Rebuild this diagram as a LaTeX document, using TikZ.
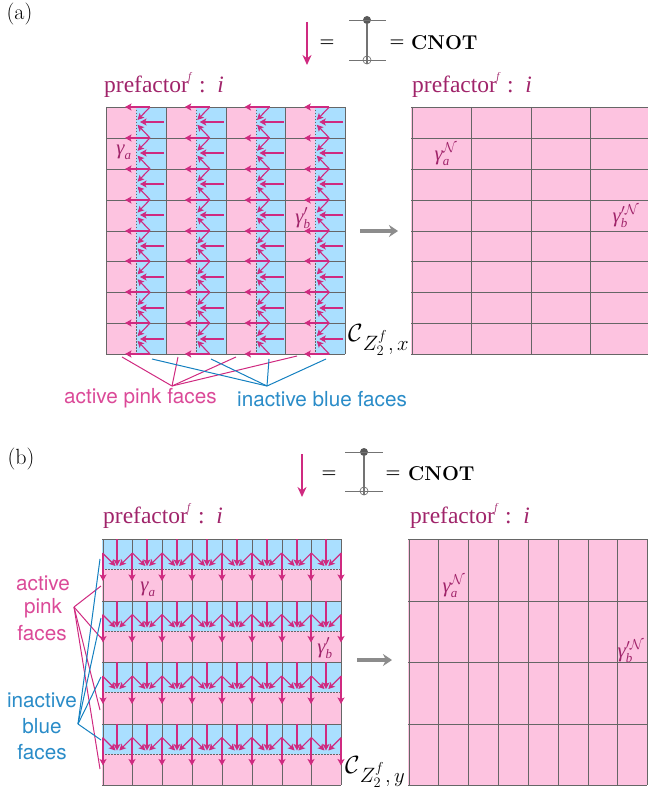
\documentclass[tikz,border=0pt]{standalone}
\usepackage{amsmath}
\usepackage{amssymb}
\usepackage{fontspec}
\usepackage {tikz}
\usetikzlibrary {positioning}
\usetikzlibrary{calc}
\usetikzlibrary{arrows.meta}
\newfontfamily\prefont{Liberation Serif}
\newfontfamily\facefont{TeX Gyre Heros}
\definecolor{facepink}{HTML}{FDC3E0}
\definecolor{faceblue}{HTML}{AADFFF}
\definecolor{flowpink}{HTML}{CF2A80}
\definecolor{labpink}{HTML}{DB4A98}
\definecolor{labblue}{HTML}{2A8CC8}
\definecolor{leadblue}{HTML}{1480C0}
\definecolor{prepurple}{HTML}{A0246A}
\newcommand{\GM}[2]{\mbox{\prefont\itshape γ}_{\mbox{\fontsize{13}{13}\selectfont\prefont\itshape #1}}#2}
\newcommand{\PF}{{\prefont prefactor\hspace{-0.5pt}\raisebox{1.25ex}{\fontsize{10}{10}\selectfont\itshape f}\,\,:\, \itshape i}}
\newcommand{\CD}[1]{\mbox{\fontsize{24.88}{30}\selectfont$\mathcal{C}$}\raisebox{-9pt}{\fontsize{20.74}{25}\selectfont$Z_2^f\hspace{1pt},#1$}}
\tikzset{
    pinkface/.style = {fill=facepink},
    blueface/.style = {fill=faceblue},
    gridline/.style = {draw=black!60,line width=1.05pt},
    dotline/.style = {draw=black!60,line width=1pt,dash pattern=on 1.5pt off 1.5pt},
    flow/.style = {draw=flowpink,line width=1.5pt,-{Stealth[length=6.5pt,width=7pt,inset=1.5pt]}},
    slant/.style = {draw=flowpink,line width=1.1pt,-{Stealth[length=6.5pt,width=6.5pt,inset=1.5pt]}},
    bigflow/.style = {draw=flowpink,line width=2pt,-{Stealth[length=10pt,width=9pt]}},
    grayflow/.style = {draw=black!45,line width=4pt,-{Stealth[length=9pt,width=12pt]}},
    leadp/.style = {draw=flowpink,line width=1pt},
    leadb/.style = {draw=leadblue,line width=1pt},
    wire/.style = {draw=black!55,line width=1.05pt},
    big/.style = {inner sep=0pt,font=\fontsize{20}{24}\selectfont},
    tag/.style = {inner sep=0pt,font=\fontsize{22}{26}\selectfont},
    eqsign/.style = {inner sep=0pt,font=\fontsize{17}{20}\selectfont},
    pre/.style = {inner sep=0pt,anchor=west,text=prepurple,font=\fontsize{23.5}{28}\selectfont},
    gam/.style = {inner sep=0pt,text=prepurple,font=\fontsize{20.74}{25}\selectfont},
    facep/.style = {inner sep=0pt,text=labpink,font=\facefont\fontsize{20.7}{25}\selectfont},
    faceb/.style = {inner sep=0pt,text=labblue,font=\facefont\fontsize{20.7}{25}\selectfont},
    copymap/.style = {circle,fill=black!65,inner sep=0pt,minimum size=8pt},
    xormap/.style = {circle,draw=black!55,line width=0.7pt,inner sep=0pt,minimum size=8pt}}
\begin{document}
\begin{tikzpicture}[x=1pt,y=-1pt]
        \useasboundingbox (0,0) rectangle (648,791);
        % panel a, left
        \fill[pinkface] (106,107) rectangle (345,354);
        \foreach \i in {0,...,3} {
            \fill[blueface] ({136+59.75*\i},107) rectangle ({165.75+59.75*\i},354);
            \draw[dotline] ({round(136+59.75*\i)},107) -- ({round(136+59.75*\i)},354);
        }
        \foreach \i in {0,...,4}
            \draw[gridline] ({round(106+59.75*\i)+0.5},107) -- ({round(106+59.75*\i)+0.5},354);
        \foreach \j in {0,...,8}
            \draw[gridline] (106,{round(107+30.875*\j)+0.5}) -- (345,{round(107+30.875*\j)+0.5});
        \foreach \i in {0,...,3} {
            \foreach \j in {0,...,8}
                \draw[flow] ({150+59.75*\i},{round(107+30.875*\j)}) -- ({125+59.75*\i},{round(107+30.875*\j)});
            \foreach \j in {0,...,7} {
                \draw[flow] ({164+59.75*\i},{round(122.4+30.875*\j)}) -- ({140+59.75*\i},{round(122.4+30.875*\j)});
                \draw[slant] ({150+59.75*\i},{107+30.875*\j}) -- ({137.5+59.75*\i},{120+30.875*\j});
                \draw[slant] ({150+59.75*\i},{137.875+30.875*\j}) -- ({137.5+59.75*\i},{124.8+30.875*\j});
            }
        }
        % panel a, right
        \fill[pinkface] (411,107) rectangle (648,354);
        \foreach \i in {0,...,3}
            \draw[gridline] ({round(411.5+59.6*\i)+0.5},107) -- ({round(411.5+59.6*\i)+0.5},354);
        \foreach \j in {0,...,8}
            \draw[gridline] (411,{round(107+30.875*\j)+0.5}) -- (648,{round(107+30.875*\j)+0.5});
        % panel b, left
        \fill[pinkface] (102,539) rectangle (341,785);
        \foreach \j in {0,...,3} {
            \fill[blueface] (102,{539+61.5*\j}) rectangle (341,{569+61.5*\j});
            \draw[dotline] (102,{round(569+61.5*\j)}) -- (341,{round(569+61.5*\j)});
        }
        \foreach \i in {0,...,8}
            \draw[gridline] ({round(102.5+29.85*\i)+0.5},539) -- ({round(102.5+29.85*\i)+0.5},785);
        \foreach \j in {0,...,4}
            \draw[gridline] (102,{round(539+61.5*\j)+0.5}) -- (341,{round(539+61.5*\j)+0.5});
        \foreach \j in {0,...,3} {
            \foreach \i in {0,...,8}
                \draw[flow] ({round(102.5+29.85*\i)},{553+61.5*\j}) -- ({round(102.5+29.85*\i)},{581+61.5*\j});
            \foreach \i in {0,...,7} {
                \draw[flow] ({round(117.4+29.85*\i)},{539+61.5*\j}) -- ({round(117.4+29.85*\i)},{566+61.5*\j});
                \draw[slant] ({102.5+29.85*\i},{553+61.5*\j}) -- ({115.5+29.85*\i},{566+61.5*\j});
                \draw[slant] ({132.3+29.85*\i},{553+61.5*\j}) -- ({119.3+29.85*\i},{566+61.5*\j});
            }
        }
        % panel b, right
        \fill[pinkface] (408,539) rectangle (647,785);
        \foreach \i in {0,...,8}
            \draw[gridline] ({round(408.5+29.85*\i)+0.5},539) -- ({round(408.5+29.85*\i)+0.5},785);
        \foreach \j in {0,...,4}
            \draw[gridline] (408,{round(539+61.5*\j)+0.5}) -- (647,{round(539+61.5*\j)+0.5});
        % headers a
        \node[tag] (tagA) at (19.5,14) {(a)};
        \coordinate (downA1) at (307,22);
        \coordinate (downA2) at (307,65);
        \draw[bigflow] (downA1) -- (downA2);
        \node[eqsign] (eqA1) at (327,43) {\textbf{=}};
        \node[copymap] (ctrlA) at (367,20) {};
        \node[xormap] (xorA) at (367,60) {};
        \coordinate (ctrlAl) at (349,20.5);
        \coordinate (ctrlAr) at (386,20.5);
        \coordinate (xorAl) at (349,60.5);
        \coordinate (xorAr) at (386,60.5);
        \draw[wire] (ctrlAl) -- (ctrlAr) (xorAl) -- (xorAr) (ctrlA) -- (xorA.south);
        \node[eqsign] (eqA2) at (397,43) {\textbf{=}};
        \node[big,anchor=west] (cnotA) at (411,43) {\textbf{CNOT}};
        \node[pre] (preA1) at (104,85) {\PF};
        \node[pre] (preA2) at (412,85) {\PF};
        % headers b
        \node[tag] (tagB) at (21,459) {(b)};
        \coordinate (downB1) at (302,454);
        \coordinate (downB2) at (302,497);
        \draw[bigflow] (downB1) -- (downB2);
        \node[eqsign] (eqB1) at (329,474) {\textbf{=}};
        \node[copymap] (ctrlB) at (364,452) {};
        \node[xormap] (xorB) at (364,491) {};
        \coordinate (ctrlBl) at (345,452.5);
        \coordinate (ctrlBr) at (383,452.5);
        \coordinate (xorBl) at (345,491.5);
        \coordinate (xorBr) at (383,491.5);
        \draw[wire] (ctrlBl) -- (ctrlBr) (xorBl) -- (xorBr) (ctrlB) -- (xorB.south);
        \node[eqsign] (eqB2) at (393,474) {\textbf{=}};
        \node[big,anchor=west] (cnotB) at (408,474) {\textbf{CNOT}};
        \node[pre] (preB1) at (103,516) {\PF};
        \node[pre] (preB2) at (410,516) {\PF};
        % gammas
        \node[gam] (gamA) at (124,152) {$\GM{a}{}$};
        \node[gam] (gamB) at (303,218) {$\GM{b}{^{\prime}}$};
        \node[gam] (gamAn) at (446,154) {$\GM{a}{^{\mathcal N}}$};
        \node[gam] (gamBn) at (626,216) {$\GM{b}{^{\prime\mathcal N}}$};
        \node[gam] (gamC) at (148,589) {$\GM{a}{}$};
        \node[gam] (gamD) at (325,648) {$\GM{b}{^{\prime}}$};
        \node[gam] (gamCn) at (454,586) {$\GM{a}{^{\mathcal N}}$};
        \node[gam] (gamDn) at (631,651) {$\GM{b}{^{\prime\mathcal N}}$};
        \node[big,anchor=west] (codeA) at (348,340) {\CD{x}};
        \node[big,anchor=west] (codeB) at (345,772) {\CD{y}};
        % gray arrows
        \coordinate (grayA1) at (360,231);
        \coordinate (grayA2) at (398,231);
        \coordinate (grayB1) at (357,660);
        \coordinate (grayB2) at (392,660);
        \draw[grayflow] (grayA1) -- (grayA2);
        \draw[grayflow] (grayB1) -- (grayB2);
        % labels a
        \node[facep,anchor=west] (activeA) at (64,398) {active pink faces};
        \node[faceb,anchor=west] (inactiveA) at (237,399) {inactive blue faces};
        \coordinate (hubP) at (172,386);
        \coordinate (hubQ) at (267,386);
        \foreach \x/\y in {122/357,178/357,236/357,297/356}
            \draw[leadp] (hubP) -- (\x,\y);
        \foreach \x/\y in {152/359,211/359,269/359,326/359}
            \draw[leadb] (hubQ) -- (\x,\y);
        % labels b
        \node[facep] (activeB1) at (43,583) {active};
        \node[facep] (activeB2) at (43,608) {pink};
        \node[facep] (activeB3) at (42,633) {faces};
        \node[faceb] (inactiveB1) at (42,700) {inactive};
        \node[faceb] (inactiveB2) at (42,726) {blue};
        \node[faceb] (inactiveB3) at (42,752) {faces};
        \coordinate (hubR) at (74,607);
        \coordinate (hubS) at (78,724);
        \foreach \x/\y in {101/586,101/638,100/710,100/769}
            \draw[leadp] (hubR) -- (\x,\y);
        \foreach \x/\y in {100/559,101/618,101/677,101/740}
            \draw[leadb] (hubS) -- (\x,\y);
\end{tikzpicture}
\end{document}
